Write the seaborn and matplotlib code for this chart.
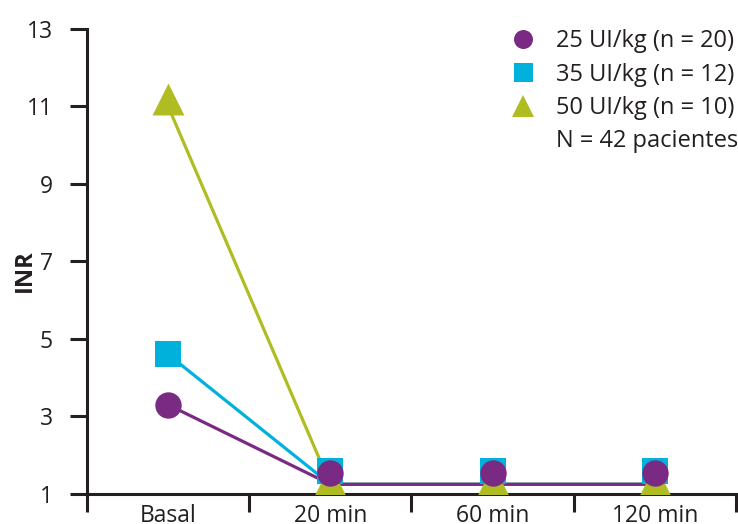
"""
INR por dosis de complejo protrombínico
"""

import pandas as pd
import numpy as np
import matplotlib
import matplotlib.pyplot as plt
from matplotlib.lines import Line2D
from matplotlib.ticker import FixedLocator
import seaborn as sns

# datos
timepoints = ['Basal', '20 min', '60 min', '120 min']
series_labels = ['25 UI/kg (n = 20)', '35 UI/kg (n = 12)', '50 UI/kg (n = 10)']
inr_25 = [3.3, 1.55, 1.55, 1.55]
inr_35 = [4.6, 1.6, 1.6, 1.6]
inr_50 = [11.2, 1.35, 1.35, 1.35]
# las lineas llegan algo por debajo de los marcadores tras la basal
line_25 = [3.3, 1.25, 1.25, 1.25]
line_35 = [4.6, 1.25, 1.25, 1.25]
line_50 = [11.0, 1.25, 1.25, 1.25]
y_ticks = [1, 3, 5, 7, 9, 11, 13]
note = 'N = 42 pacientes'


def main():
    sns.set_style('ticks')
    plt.rcParams['font.family'] = ['Open Sans', 'DejaVu Sans']
    text_col = '#231f20'
    colours = {'25': '#7b2a84', '35': '#00b2db', '50': '#afbd22'}
    markers = {'25': 'o', '35': 's', '50': '^'}
    sizes = {'25': 19, '35': 19, '50': 23}

    fig = plt.figure(figsize=(7.38, 5.24), dpi=100)
    ax = fig.add_axes([0.118, 0.0573, 0.879, 0.8874])

    df = pd.DataFrame({'tiempo': timepoints * 3,
                       'dosis': ['25'] * 4 + ['35'] * 4 + ['50'] * 4,
                       'inr': inr_25 + inr_35 + inr_50,
                       'linea': line_25 + line_35 + line_50})

    # lineas primero (la morada queda encima)
    for d in ['50', '35', '25']:
        sub = df[df['dosis'] == d]
        sns.lineplot(x='tiempo', y='linea', data=sub, color=colours[d],
                     linewidth=2.3, sort=False, ax=ax, zorder=2)
    # marcadores: triangulos debajo, circulos arriba
    for i, d in enumerate(['50', '35', '25']):
        sub = df[df['dosis'] == d]
        sns.scatterplot(x='tiempo', y='inr', data=sub, color=colours[d],
                        marker=markers[d], s=sizes[d] ** 2, linewidth=0,
                        ax=ax, zorder=3 + i, legend=False)

    ax.set_xlim(-0.5, len(timepoints) - 0.5)
    ax.set_ylim(1, 13)
    ax.set_yticks(y_ticks)
    ax.set_yticklabels([str(t) for t in y_ticks])
    ax.set_xticks(range(len(timepoints)))
    ax.set_xticklabels(timepoints)
    ax.xaxis.set_minor_locator(FixedLocator(np.arange(-0.5, len(timepoints), 1.0)))
    ax.tick_params(axis='x', which='major', length=0, pad=7, labelsize=16.5, labelcolor=text_col)
    ax.tick_params(axis='x', which='minor', length=13, width=2.2, color=text_col)
    ax.tick_params(axis='y', length=12.5, width=2.2, pad=12, labelsize=16.5,
                   color=text_col, labelcolor=text_col)
    for s in ['left', 'bottom']:
        ax.spines[s].set_linewidth(2.2)
        ax.spines[s].set_color(text_col)
    sns.despine(ax=ax)
    ax.spines['left'].set_zorder(10)

    ax.set_xlabel('')
    ax.set_ylabel('INR', fontsize=17, fontweight='bold', color=text_col)
    ax.yaxis.set_label_coords(-0.077, 0.48)

    handles = [Line2D([], [], linestyle='none', marker=markers[d], color=colours[d],
                      markersize=sizes[d] * 0.72, markeredgewidth=0)
               for d in ['25', '35', '50']]
    handles.append(Line2D([], [], linestyle='none'))
    leg = ax.legend(handles, series_labels + [note], loc='upper right',
                    bbox_to_anchor=(1.018, 1.02), frameon=False, fontsize=17,
                    handletextpad=0.75, labelspacing=0.4, handlelength=1.3,
                    borderaxespad=0)
    for t in leg.get_texts():
        t.set_color(text_col)

    fig.savefig('out.png', dpi=100)
    plt.close()


if __name__ == '__main__':
    main()
